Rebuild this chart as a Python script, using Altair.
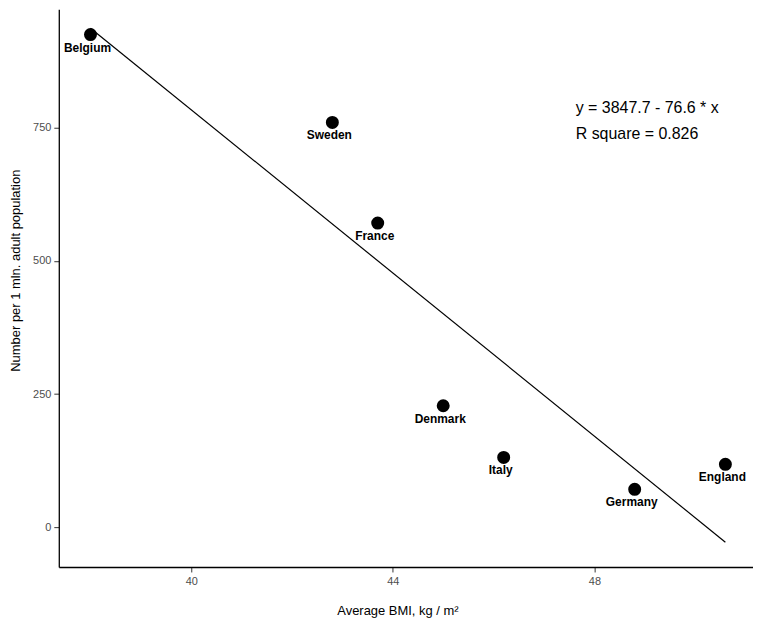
import altair as alt
import pandas as pd

countries = ["Belgium", "Sweden", "France", "Denmark", "Italy", "Germany", "England"]
bmi = [38.0, 42.8, 43.7, 45.0, 46.2, 48.8, 50.6]
number = [925, 760, 571, 228, 131, 71, 118]

intercept = 3847.7
slope = -76.6
eq_lines = ["y = 3847.7 - 76.6 * x", "R square = 0.826"]

x_ticks = [40, 44, 48]
y_ticks = [0, 250, 500, 750]

df = pd.DataFrame({"country": countries, "bmi": bmi, "number": number})
line_df = pd.DataFrame({"bmi": [min(bmi), max(bmi)]})
ann_df = pd.DataFrame({"text": eq_lines, "bmi": [47.63, 47.63], "number": [787, 739]})

FONT = "Liberation Sans"
xscale = alt.Scale(domain=[37.371, 51.148], nice=False, zero=False)
yscale = alt.Scale(domain=[-74.8, 972.6], nice=False, zero=False)

xaxis = alt.Axis(values=x_ticks, title="Average BMI, kg / m²", grid=False,
                 domain=True, domainColor="black", domainWidth=1.3,
                 tickColor="#333333", tickSize=5, labelColor="#4d4d4d",
                 labelFontSize=11, labelPadding=4, titleFontSize=13,
                 titleFontWeight="normal", titleColor="black", titlePadding=18,
                 titleX=340, titleFont=FONT, labelFont=FONT)
yaxis = alt.Axis(values=y_ticks, title="Number per 1 mln. adult population", grid=False,
                 domain=True, domainColor="black", domainWidth=1.3,
                 tickColor="#333333", tickSize=5, labelColor="#4d4d4d",
                 labelFontSize=11, labelPadding=3, titleFontSize=13,
                 titleFontWeight="normal", titleColor="black",
                 titleX=-36, titleY=262, titleFont=FONT, labelFont=FONT)

points = alt.Chart(df).mark_circle(size=170, color="black", opacity=1).encode(
    x=alt.X("bmi:Q", scale=xscale, axis=xaxis),
    y=alt.Y("number:Q", scale=yscale, axis=yaxis),
)

labels = alt.Chart(df).mark_text(font=FONT, fontSize=12, fontWeight="bold",
                                 color="black", dx=-3, dy=13).encode(
    x=alt.X("bmi:Q", scale=xscale),
    y=alt.Y("number:Q", scale=yscale),
    text="country:N",
)

line = alt.Chart(line_df).transform_calculate(
    number=f"{intercept} + ({slope}) * datum.bmi"
).mark_line(color="black", strokeWidth=1.2).encode(
    x=alt.X("bmi:Q", scale=xscale),
    y=alt.Y("number:Q", scale=yscale),
)

ann = alt.Chart(ann_df).mark_text(font=FONT, fontSize=16, color="black",
                                  align="left", baseline="middle").encode(
    x=alt.X("bmi:Q", scale=xscale),
    y=alt.Y("number:Q", scale=yscale),
    text="text:N",
)

chart = alt.layer(line, points, labels, ann).properties(
    width=697, height=560,
    background="white",
    autosize=alt.AutoSizeParams(type="none"),
    padding={"left": 51, "top": 0, "right": 0, "bottom": 52},
).configure_view(stroke=None)

chart.save("out.html", embed_options={"renderer": "svg", "actions": False})
